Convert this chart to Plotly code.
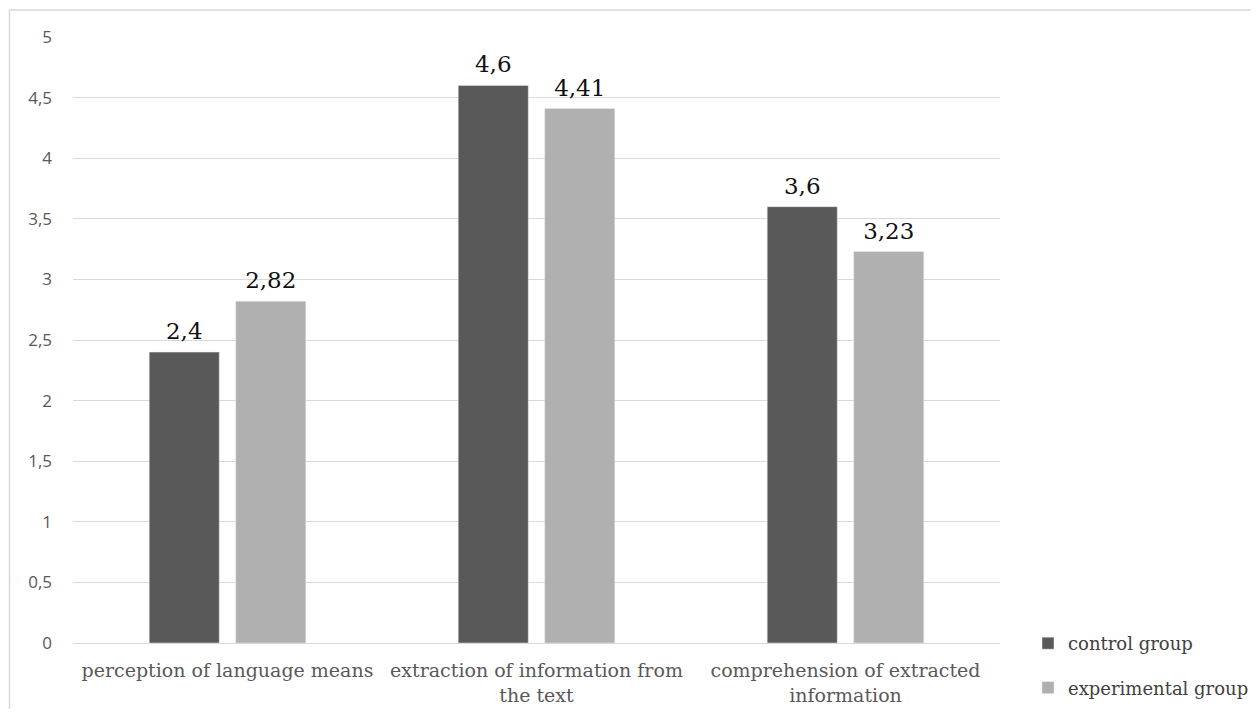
import plotly.graph_objects as go

categories = ["perception of language means",
              "extraction of information from<br>the text",
              "comprehension of extracted<br>information"]
control = [2.4, 4.6, 3.6]
experimental = [2.82, 4.41, 3.23]
series_names = ["control group", "experimental group"]
tick_vals = [0, 0.5, 1, 1.5, 2, 2.5, 3, 3.5, 4, 4.5, 5]

def fmt(v):
    return ("%g" % v).replace(".", ",")

SERIF = "DejaVu Serif, Cambria, serif"
SANS = "Open Sans, Liberation Sans, sans-serif"

fig = go.Figure()
series = [(series_names[0], control, "#595959", "a"),
          (series_names[1], experimental, "#b0b0b0", "b")]
for name, vals, color, grp in series:
    fig.add_trace(go.Bar(
        x=categories, y=vals, name=name, marker_color=color,
        offsetgroup=grp, legendgroup=grp, hoverinfo="x+y+name",
    ))
for name, vals, color, grp in series:
    fig.add_trace(go.Scatter(
        x=categories, y=vals, mode="markers+text", offsetgroup=grp,
        text=[fmt(v) for v in vals], textposition="top center",
        textfont=dict(family=SERIF, size=23, color="#111111"),
        marker=dict(size=10, color="rgba(0,0,0,0)"),
        showlegend=False, hoverinfo="skip", cliponaxis=False,
    ))

# page offset from default body margin
OFF = 8
FW, FH = 1259 - 2 * OFF, 717 - 2 * OFF
# plot-area absolute page pixel geometry
L, R, T, B = 73, 1000, 37, 643
W, H = R - L, B - T
def px_x(p): return (p - L) / W
def px_y(p): return (B - p) / H

fig.update_layout(
    width=FW, height=FH, autosize=False,
    margin=dict(l=L - OFF, r=FW + OFF - R, t=T - OFF, b=FH + OFF - B,
                autoexpand=False),
    paper_bgcolor="white", plot_bgcolor="white",
    separators=", ",
    barmode="group", bargap=0.44, bargroupgap=0.19,
    scattermode="group",
    showlegend=True,
    legend=dict(x=px_x(1254), y=px_y(706), xanchor="right", yanchor="bottom",
                font=dict(family=SERIF, size=18, color="#404040"),
                tracegroupgap=18, traceorder="grouped",
                itemwidth=30, bgcolor="rgba(0,0,0,0)"),
    xaxis=dict(showgrid=False, showline=False, ticks="", automargin=False,
               ticklabelstandoff=14,
               tickfont=dict(family=SERIF, size=19, color="#595959")),
    yaxis=dict(range=[0, 5], tickvals=tick_vals, showgrid=True,
               gridcolor="#d9d9d9", gridwidth=1, zeroline=True,
               zerolinecolor="#d9d9d9", zerolinewidth=1, showline=False,
               ticks="", ticklabelstandoff=20, automargin=False,
               tickfont=dict(family=SANS, size=17, color="#595959")),
    shapes=[dict(type="rect", xref="paper", yref="paper",
                 x0=px_x(9.5), x1=px_x(1300), y0=px_y(10), y1=px_y(760),
                 line=dict(color="#d9d9d9", width=1.5), layer="below")],
)

fig.write_html("out.html")
